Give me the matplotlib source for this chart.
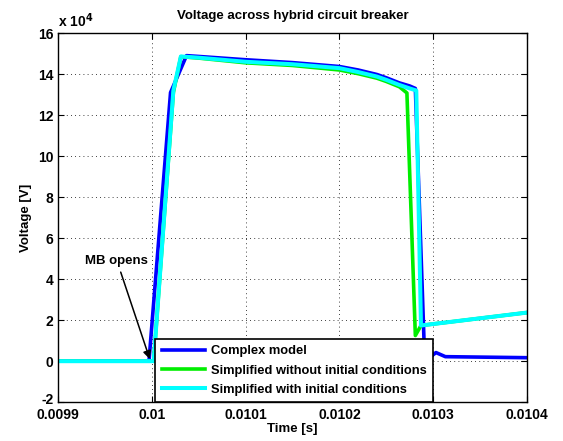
import matplotlib
matplotlib.use('Agg')
import matplotlib.pyplot as plt
import matplotlib.transforms as mtransforms
import numpy as np

plt.rcParams['font.family'] = ['Liberation Sans', 'DejaVu Sans']
plt.rcParams['font.weight'] = 'bold'
plt.rcParams['axes.unicode_minus'] = False

# voltage in units of 1e4 V, time in s
t_complex = [0.0099, 0.009997, 0.010020, 0.010037, 0.01005, 0.0101, 0.01015, 0.0102,
             0.01022, 0.01024, 0.01025, 0.010264, 0.010275, 0.010281, 0.010291,
             0.010303, 0.010313, 0.0104]
v_complex = [0.0, 0.0, 13.1, 14.9, 14.86, 14.7, 14.56, 14.37, 14.2, 13.98, 13.82,
             13.57, 13.42, 13.3, 0.0, 0.42, 0.22, 0.17]

t_simple = [0.0099, 0.010002, 0.010023, 0.010031, 0.01005, 0.0101, 0.01015, 0.0102,
            0.01022, 0.01024, 0.01025, 0.010264, 0.010272, 0.010281, 0.010287, 0.0104]
v_simple = [0.0, 0.0, 13.1, 14.85, 14.78, 14.55, 14.42, 14.2, 14.02, 13.8, 13.64,
            13.38, 13.08, 1.25, 1.74, 2.37]

t_init = [0.0099, 0.010002, 0.010023, 0.010031, 0.01005, 0.0101, 0.01015, 0.0102,
          0.01022, 0.01024, 0.01025, 0.010264, 0.010275, 0.010282, 0.010287, 0.0104]
v_init = [0.0, 0.0, 13.2, 14.86, 14.8, 14.6, 14.48, 14.29, 14.1, 13.88, 13.72,
          13.47, 13.3, 13.2, 1.74, 2.37]

labels = ['Complex model', 'Simplified without initial conditions',
          'Simplified with initial conditions']

fig = plt.figure(figsize=(5.63, 4.41), dpi=100)
ax = fig.add_axes([0.103, 0.088, 0.833, 0.837])

ax.plot(t_complex, v_complex, color='#0000ff', lw=2.6, label=labels[0])
ax.plot(t_simple, v_simple, color='#00ee00', lw=2.6, label=labels[1])
ax.plot(t_init, v_init, color='#00ffff', lw=2.9, label=labels[2])

ax.set_xlim(0.0099, 0.0104)
ax.set_ylim(-2, 16)
xt = [0.0099, 0.01, 0.0101, 0.0102, 0.0103, 0.0104]
ax.set_xticks(xt)
ax.set_xticklabels(['%g' % x for x in xt])
ax.set_yticks(range(-2, 17, 2))
ax.tick_params(direction='in', top=True, right=True, labelsize=10, length=4, width=0.8)
ax.tick_params(axis='x', pad=4)
for s in ax.spines.values():
    s.set_linewidth(1.0)
ax.grid(True, color='black', linestyle=(0, (1, 4)), linewidth=0.6)

# lift the bottom "-2" label a little so it sits above 0.0099 as in the original
lbl = ax.get_yticklabels()[0]
lbl.set_transform(lbl.get_transform() + mtransforms.ScaledTranslation(0, 4 / 100, fig.dpi_scale_trans))

ax.set_xlabel('Time [s]', fontsize=9.5, fontweight='bold', labelpad=1)
ax.set_ylabel('Voltage [V]', fontsize=9.5, fontweight='bold', labelpad=4)
ax.set_title('Voltage across hybrid circuit breaker', fontsize=9.5, fontweight='bold', pad=10)
ax.text(0.0, 1.008, r'x 10$^4$', transform=ax.transAxes, fontsize=10,
        fontweight='bold', ha='left', va='bottom')

ax.annotate('MB opens', xy=(0.0099979, 0.1), xytext=(0.0099628, 4.9),
            fontsize=9.5, fontweight='bold', ha='center', va='center',
            arrowprops=dict(arrowstyle='-|>', color='black', lw=1.1,
                            mutation_scale=12, shrinkA=2, shrinkB=0))

leg = ax.legend(loc='lower right', bbox_to_anchor=(0.8, 0.0), borderaxespad=0,
                fontsize=9.3, fancybox=False, framealpha=1, edgecolor='black',
                handlelength=3.3, labelspacing=0.55, borderpad=0.5, handletextpad=0.5)
leg.get_frame().set_linewidth(1.2)
for txt in leg.get_texts():
    txt.set_fontweight('bold')

plt.savefig('out.png', dpi=100)
